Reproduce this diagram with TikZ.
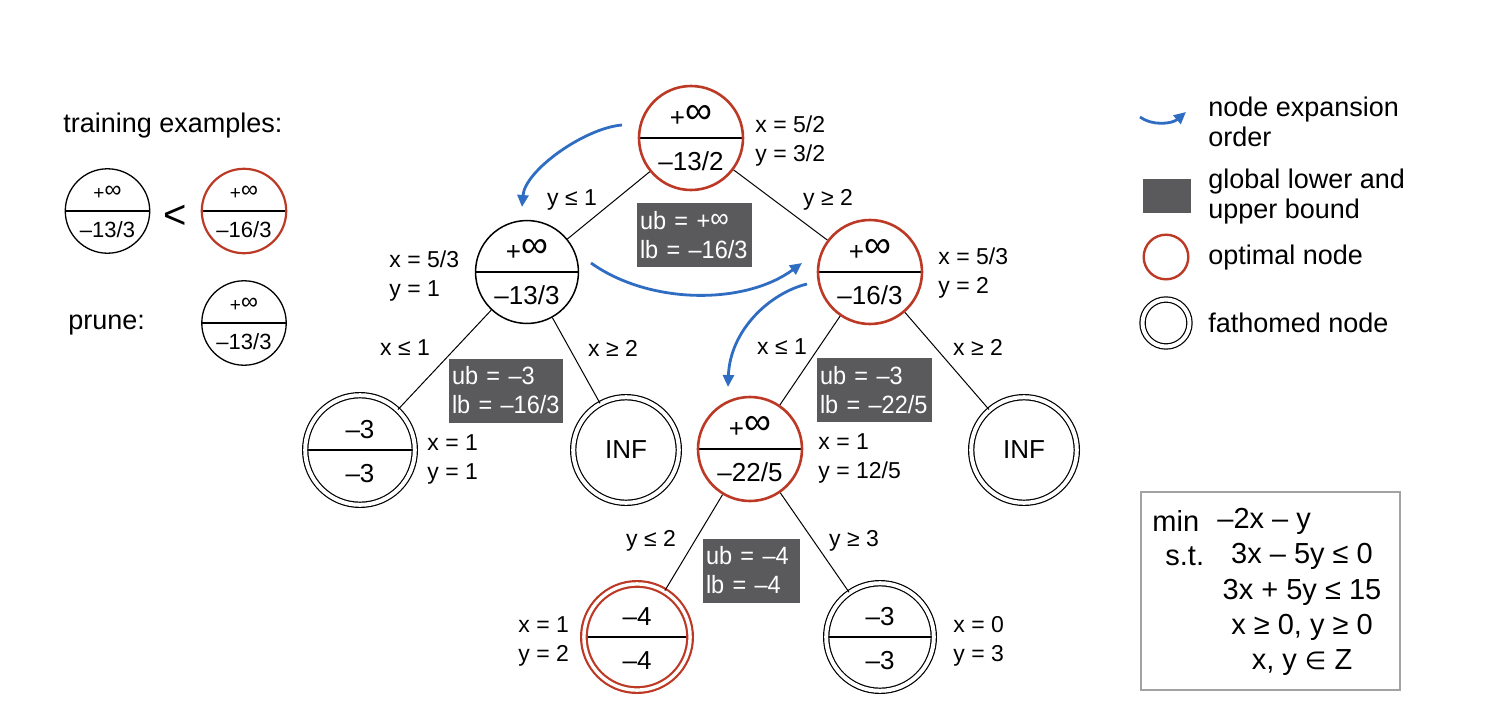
\documentclass[tikz,border=0pt]{standalone}
\usepackage{fontspec}
\setmainfont{Liberation Sans}
\newfontfamily\symfont{DejaVu Sans}
\newfontfamily\boxfont[FakeStretch=0.94]{Liberation Sans}
\usepackage{graphicx}
\usetikzlibrary{arrows.meta}
\definecolor{optimal}{HTML}{BC3A25}
\definecolor{expand}{HTML}{2F6DC3}
\definecolor{lbub}{HTML}{5A5A5D}
\definecolor{frame}{HTML}{A3A3A3}

% node values: upper bound over lower bound
\newcommand{\pinf}[1][1.45]{+\raisebox{0.08em}{\scalebox{#1}{∞}}}
\newcommand{\spinf}{{\fontsize{9.5}{12}\selectfont\pinf[1.25]}}
\newcommand{\bnbup}{0pt}
\newcommand{\bnblo}{0pt}
\newcommand{\bnbval}[2]{\begin{tabular}{@{}c@{}}\raisebox{\bnbup}{#1}\\\raisebox{\bnblo}{#2}\end{tabular}}

\begin{document}
\begin{tikzpicture}[x=0.5pt, y=-0.5pt,
  bnb/.style={circle, draw, inner sep=0pt, minimum size=51.3pt, line width=0.75pt,
    font=\fontsize{13}{20}\selectfont,
    execute at begin node={\def\bnbup{0pt}\def\bnblo{-2pt}}},
  halves/.style={path picture={\draw[black, line width=0.55pt]
    (path picture bounding box.west) -- (path picture bounding box.east);}},
  opt/.style={draw=optimal, line width=1.3pt, minimum size=52pt},
  fathom/.style={double, double distance=2pt, line width=0.6pt},
  optfathom/.style={draw=optimal, double, double distance=1.7pt, line width=1.1pt},
  exnode/.style={bnb, halves, minimum size=40.8pt, line width=0.65pt,
    font=\fontsize{11}{16}\selectfont,
    execute at begin node={\def\bnbup{1.2pt}\def\bnblo{-1.8pt}}},
  edge/.style={line width=0.5pt},
  elab/.style={font=\fontsize{11.5}{14}\selectfont, inner sep=1pt},
  side/.style={font=\fontsize{11.5}{14.5}\selectfont, align=left, anchor=west, inner sep=0pt},
  lubox/.style={fill=lbub, text=white, font=\boxfont\fontsize{12.5}{14.5}\selectfont,
    align=left, inner xsep=1.5pt, minimum height=32pt},
  order/.style={expand, line width=1.4pt, -{Triangle[length=6pt,width=5.5pt]}},
  lgtext/.style={font=\fontsize{13.5}{15}\selectfont, align=left, anchor=west, inner sep=0pt},
  probtext/.style={font=\fontsize{14.5}{17}\selectfont, inner sep=0pt}]
  \fill[white] (0,0) rectangle (1490,724);

  % Left: training examples
  \node[lgtext] (train) at (63,126) {training examples:};
  \node[exnode] (ex1) at (107.5,211) {\bnbval{\spinf}{–13/3}};
  \node[exnode, draw=optimal, line width=1.1pt, minimum size=40.4pt] (ex2) at (244,211) {\bnbval{\spinf}{–16/3}};
  \node[font=\fontsize{20}{24}\selectfont, inner sep=0pt] (less) at (175,217) {<};
  \node[lgtext] (prune) at (68,325) {prune:};
  \node[exnode] (ex3) at (244,323) {\bnbval{\spinf}{–13/3}};

  % Tree
  \node[bnb, halves, opt] (R) at (691,138) {\bnbval{\pinf}{–13/2}};
  \node[bnb, halves] (A) at (527,272) {\bnbval{\pinf}{–13/3}};
  \node[bnb, halves, opt] (B) at (870,272) {\bnbval{\pinf}{–16/3}};
  \node[bnb, halves, fathom, minimum size=54.8pt] (C) at (360,450) {\bnbval{–3}{–3}};
  \node[bnb, fathom, minimum size=52.8pt] (D) at (626,450) {INF};
  \node[bnb, halves, opt] (E) at (750,449) {\bnbval{\pinf}{–22/5}};
  \node[bnb, fathom, minimum size=52.8pt] (F) at (1024,450) {INF};
  \node[bnb, halves, optfathom, minimum size=53.1pt] (G) at (637,637) {\bnbval{–4}{–4}};
  \node[bnb, halves, fathom, minimum size=53.8pt] (H) at (880,637) {\bnbval{–3}{–3}};

  \draw[edge] (R) -- (A);
  \draw[edge] (R) -- (B);
  \draw[edge] (A) -- (C);
  \draw[edge] (A) -- (D);
  \draw[edge] (B) -- (E);
  \draw[edge] (B) -- (F);
  \draw[edge] (E) -- (G);
  \draw[edge] (E) -- (H);

  % branching constraints
  \node[elab] (eRA) at (572,200) {y ≤ 1};
  \node[elab] (eRB) at (828,200) {y ≥ 2};
  \node[elab] (eAC) at (405,348) {x ≤ 1};
  \node[elab] (eAD) at (613,348) {x ≥ 2};
  \node[elab] (eBE) at (782,347) {x ≤ 1};
  \node[elab] (eBF) at (978,347) {x ≥ 2};
  \node[elab] (eEG) at (651,541) {y ≤ 2};
  \node[elab] (eEH) at (854,541) {y ≥ 3};

  % LP solutions
  \node[side] (sR) at (755,141) {x = 5/2\\y = 3/2};
  \node[side] (sA) at (389,276) {x = 5/3\\y = 1};
  \node[side] (sB) at (938,273) {x = 5/3\\y = 2};
  \node[side] (sC) at (427,459) {x = 1\\y = 1};
  \node[side] (sE) at (818,458) {x = 1\\y = 12/5};
  \node[side] (sG) at (518,641) {x = 1\\y = 2};
  \node[side] (sH) at (953,641) {x = 0\\y = 3};

  % global bounds
  \node[lubox, text width=54.5pt] (ub1) at (694.5,235) {ub = \pinf[1.1]\\lb = –16/3};
  \node[lubox, text width=54pt] (ub2) at (506,390.5) {ub = –3\\lb = –16/3};
  \node[lubox, text width=54.5pt] (ub3) at (874.5,390) {ub = –3\\lb = –22/5};
  \node[lubox, text width=45.5pt] (ub4) at (751.5,570.5) {ub = –4\\lb = –4};

  % expansion order
  \coordinate (o1a) at (622,125);
  \coordinate (o1b) at (522,207);
  \coordinate (o2a) at (591,263);
  \coordinate (o2b) at (802,263);
  \coordinate (o3a) at (807,284);
  \coordinate (o3b) at (728,387);
  \draw[order] (o1a) .. controls (585,128) and (525,170) .. (o1b);
  \draw[order] (o2a) .. controls (650,305) and (745,305) .. (o2b);
  \draw[order] (o3a) .. controls (770,293) and (730,330) .. (o3b);

  % Legend
  \coordinate (lga) at (1140,117);
  \coordinate (lgb) at (1186,112);
  \draw[order] (lga) .. controls (1152,126) and (1172,124) .. (lgb);
  \node[lgtext] (lgorder) at (1208,122) {node expansion\\order};
  \node[fill=lbub, minimum width=24pt, minimum height=17pt, inner sep=0pt] (lgbox) at (1167,196) {};
  \node[lgtext] (lgbound) at (1208,197) {global lower and\\upper bound};
  \node[circle, draw=optimal, line width=1.2pt, minimum size=22.3pt, inner sep=0pt] (lgopt) at (1166,257) {};
  \node[lgtext] (lgopttext) at (1208,258) {optimal node};
  \node[circle, draw, fathom, minimum size=23.5pt, inner sep=0pt] (lgfat) at (1166,323) {};
  \node[lgtext] (lgfattext) at (1208,323) {fathomed node};

  % Problem
  \node[draw=frame, line width=0.8pt, minimum width=129.5pt, minimum height=99pt] (prob) at (1270.5,591) {};
  \node[probtext, anchor=west] (pmin) at (1152,521) {min};
  \node[probtext, anchor=west] (pobj) at (1217,521) {–2x – y};
  \node[probtext, anchor=west] (pst) at (1165,556) {s.t.};
  \node[probtext] (pc1) at (1302,556) {3x – 5y ≤ 0};
  \node[probtext] (pc2) at (1302,592) {3x + 5y ≤ 15};
  \node[probtext] (pc3) at (1302,627) {x ≥ 0, y ≥ 0};
  \node[probtext] (pc4) at (1302,663) {x, y {\symfont\scalebox{0.85}{∈}} Z};
\end{tikzpicture}
\end{document}
